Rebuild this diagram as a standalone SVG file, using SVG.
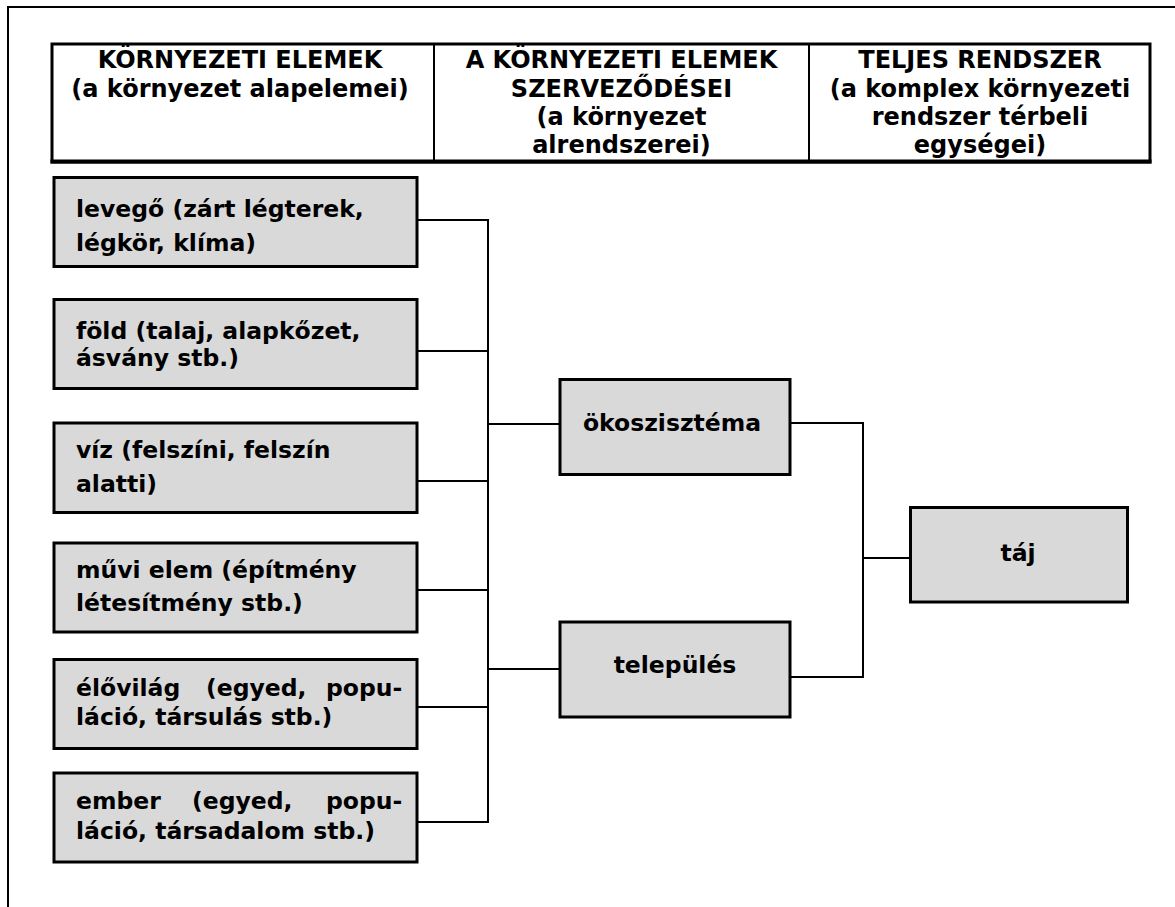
<svg xmlns="http://www.w3.org/2000/svg" width="1175" height="907" viewBox="0 0 1175 907">
<style>
.t{font-family:"DejaVu Sans",Verdana,sans-serif;font-weight:bold;fill:#000}
.h{font-size:24px;text-anchor:middle}
.b{font-size:23.5px}
.c{text-anchor:middle}
.box{fill:#d9d9d9;stroke:#000;stroke-width:3}
.ln{stroke:#000;stroke-width:2;fill:none}
</style>
<rect width="1175" height="907" fill="#fff"/>
<path d="M8,907 V7 H1175" fill="none" stroke="#000" stroke-width="2"/>
<g id="header">
<rect x="52" y="44" width="1098" height="118" fill="#fff" stroke="#000" stroke-width="3"/>
<line x1="50.5" y1="161.5" x2="1151.5" y2="161.5" stroke="#000" stroke-width="4"/>
<line x1="434" y1="44" x2="434" y2="161" stroke="#000" stroke-width="2"/>
<line x1="809" y1="44" x2="809" y2="161" stroke="#000" stroke-width="2"/>
<text class="t h" x="240"><tspan x="240" y="68">KÖRNYEZETI ELEMEK</tspan><tspan x="240" y="96.5">(a környezet alapelemei)</tspan></text>
<text class="t h" x="621.5"><tspan x="621.5" y="68">A KÖRNYEZETI ELEMEK</tspan><tspan x="621.5" y="96.5">SZERVEZŐDÉSEI</tspan><tspan x="621.5" y="124.5">(a környezet</tspan><tspan x="621.5" y="152.5">alrendszerei)</tspan></text>
<text class="t h" x="980"><tspan x="980" y="68">TELJES RENDSZER</tspan><tspan x="980" y="96.5">(a komplex környezeti</tspan><tspan x="980" y="124.5">rendszer térbeli</tspan><tspan x="980" y="152.5">egységei)</tspan></text>
</g>
<g id="connectors">
<path class="ln" d="M418,220 H488 M418,351 H488 M418,481 H488 M418,590 H488 M418,707 H488 M418,822 H488 M488,219 V823 M488,424 H559 M488,669 H559"/>
<path class="ln" d="M791,423 H863 M791,677 H863 M863,422 V678 M863,558 H909"/>
</g>
<g id="levego">
<rect class="box" x="54" y="177.5" width="363" height="89"/>
<text class="t b"><tspan x="76" y="217">levegő (zárt légterek,</tspan><tspan x="76" y="251">légkör, klíma)</tspan></text>
</g>
<g id="fold">
<rect class="box" x="54" y="299.5" width="363" height="89"/>
<text class="t b"><tspan x="76" y="339">föld (talaj, alapkőzet,</tspan><tspan x="76" y="366">ásvány stb.)</tspan></text>
</g>
<g id="viz">
<rect class="box" x="54" y="423" width="363" height="89.5"/>
<text class="t b"><tspan x="76" y="457.5">víz (felszíni, felszín</tspan><tspan x="76" y="491.5">alatti)</tspan></text>
</g>
<g id="muvi">
<rect class="box" x="54" y="543" width="363" height="89"/>
<text class="t b"><tspan x="76" y="577.5">művi elem (építmény</tspan><tspan x="76" y="611">létesítmény stb.)</tspan></text>
</g>
<g id="elovilag">
<rect class="box" x="54" y="659.5" width="363" height="89"/>
<text class="t b"><tspan x="76" y="695.5">élővilág</tspan><tspan x="206" y="695.5">(egyed,</tspan><tspan x="326" y="695.5">popu-</tspan><tspan x="76" y="725">láció, társulás stb.)</tspan></text>
</g>
<g id="ember">
<rect class="box" x="54" y="773" width="363" height="89"/>
<text class="t b"><tspan x="76" y="809">ember</tspan><tspan x="192" y="809">(egyed,</tspan><tspan x="326" y="809">popu-</tspan><tspan x="76" y="839">láció, társadalom stb.)</tspan></text>
</g>
<g id="okoszisztema">
<rect class="box" x="560" y="379.5" width="230" height="95"/>
<text class="t b c" x="672" y="431">ökoszisztéma</text>
</g>
<g id="telepules">
<rect class="box" x="560" y="622" width="230" height="95"/>
<text class="t b c" x="675" y="673">település</text>
</g>
<g id="taj">
<rect class="box" x="910.5" y="507.5" width="217" height="94.5"/>
<text class="t b c" x="1018" y="561">táj</text>
</g>
</svg>
